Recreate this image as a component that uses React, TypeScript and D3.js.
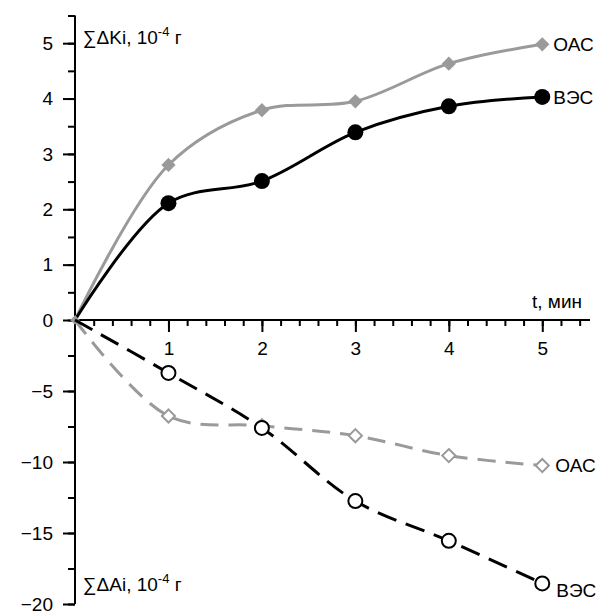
import React, { useEffect, useRef } from 'react'
import * as d3 from 'd3'

// time points, min
const times = [0, 1, 2, 3, 4, 5]
// ∑ΔKi, 10^-4 g (upper panel)
const kOAC = [0, 2.8, 3.79, 3.95, 4.63, 4.98]
const kVES = [0, 2.11, 2.51, 3.39, 3.86, 4.03]
// ∑ΔAi, 10^-4 g (lower panel)
const aOAC = [0, -6.76, -7.45, -8.15, -9.55, -10.25]
const aVES = [0, -3.73, -7.6, -12.75, -15.55, -18.55]

const topTicks = [0, 1, 2, 3, 4, 5]
const botTicks = [-5, -10, -15, -20]
const xTicks = [1, 2, 3, 4, 5]

const W = 606, H = 613
const FONT = 'Liberation Sans, Arial, sans-serif'
const GRAY = '#9a9a9a'

export default function App() {
  const ref = useRef<SVGSVGElement>(null)

  useEffect(() => {
    const svg = d3.select(ref.current)
    svg.selectAll('*').remove()

    const x = d3.scaleLinear().domain([0, 5.5]).range([75, 589])
    const yTop = d3.scaleLinear().domain([0, 5.5]).range([320, 15.5])
    const yBot = d3.scaleLinear().domain([0, -20]).range([320, 604])

    // y axis, upper part
    const gTop = svg.append('g').attr('transform', 'translate(75,0)')
    gTop.call(d3.axisLeft(yTop).tickValues(d3.range(0, 5.51, 0.5)).tickSize(7).tickFormat(() => ''))
    gTop.select('.domain').remove()
    const gTopMaj = svg.append('g').attr('transform', 'translate(75,0)')
    gTopMaj.call(d3.axisLeft(yTop).tickValues(topTicks).tickSize(12).tickPadding(10).tickFormat(d3.format('d')))
    gTopMaj.select('.domain').remove()

    // y axis, lower part
    const gBot = svg.append('g').attr('transform', 'translate(75,0)')
    gBot.call(d3.axisLeft(yBot).tickValues(d3.range(-2.5, -20.1, -2.5)).tickSize(7).tickFormat(() => ''))
    gBot.select('.domain').remove()
    const gBotMaj = svg.append('g').attr('transform', 'translate(75,0)')
    gBotMaj.call(d3.axisLeft(yBot).tickValues(botTicks).tickSize(12).tickPadding(10)
      .tickFormat(d => d3.format('d')(d as number).replace('-', '\u2212')))
    gBotMaj.select('.domain').remove()

    svg.append('line').attr('x1', 75).attr('x2', 75).attr('y1', yTop(5.5)).attr('y2', yBot(-20))
      .attr('stroke', '#000').attr('stroke-width', 2)

    // x axis
    const gx = svg.append('g').attr('transform', 'translate(0,320)')
    gx.call(d3.axisBottom(x).tickValues(d3.range(0.2, 5.41, 0.2)).tickSize(6).tickFormat(() => ''))
    gx.select('.domain').remove()
    const gxMaj = svg.append('g').attr('transform', 'translate(0,320)')
    gxMaj.call(d3.axisBottom(x).tickValues(xTicks).tickSize(12).tickPadding(10).tickFormat(d3.format('d')))
    gxMaj.select('.domain').remove()
    svg.append('line').attr('x1', 75).attr('x2', 590).attr('y1', 320).attr('y2', 320)
      .attr('stroke', '#000').attr('stroke-width', 2)

    svg.selectAll('.tick line').attr('stroke', '#000').attr('stroke-width', 2)
    svg.selectAll('.tick text').attr('font-family', FONT).attr('font-size', 19).attr('fill', '#000')

    const line = (ys: d3.ScaleLinear<number, number>) => d3.line<number>()
      .x((_, i) => x(times[i])).y(d => ys(d)).curve(d3.curveCatmullRom.alpha(0.5))

    const diamond = d3.symbol().type(d3.symbolDiamond2)

    // upper series
    svg.append('path').datum(kOAC).attr('d', line(yTop)).attr('fill', 'none').attr('stroke', GRAY).attr('stroke-width', 3)
    svg.append('path').datum(kVES).attr('d', line(yTop)).attr('fill', 'none').attr('stroke', '#000').attr('stroke-width', 3)
    svg.selectAll('.kd').data(kOAC).enter().append('path')
      .attr('transform', (d, i) => `translate(${x(times[i])},${yTop(d)})`)
      .attr('d', (_, i) => diamond.size(i === 0 ? 60 : 130)())
      .attr('fill', GRAY)
    svg.selectAll('.kc').data(kVES.slice(1)).enter().append('circle')
      .attr('cx', (_, i) => x(times[i + 1])).attr('cy', d => yTop(d)).attr('r', 8).attr('fill', '#000')

    // lower series
    svg.append('path').datum(aOAC).attr('d', line(yBot)).attr('fill', 'none').attr('stroke', GRAY)
      .attr('stroke-width', 3).attr('stroke-dasharray', '18,10')
    svg.append('path').datum(aVES).attr('d', line(yBot)).attr('fill', 'none').attr('stroke', '#000')
      .attr('stroke-width', 3).attr('stroke-dasharray', '20,10')
    svg.selectAll('.ad').data(aOAC.slice(1)).enter().append('path')
      .attr('transform', (d, i) => `translate(${x(times[i + 1])},${yBot(d)})`)
      .attr('d', diamond.size(110)())
      .attr('fill', '#fff').attr('stroke', GRAY).attr('stroke-width', 2)
    svg.selectAll('.ac').data(aVES.slice(1)).enter().append('circle')
      .attr('cx', (_, i) => x(times[i + 1])).attr('cy', d => yBot(d)).attr('r', 7)
      .attr('fill', '#fff').attr('stroke', '#000').attr('stroke-width', 2)

    // series labels
    const lab = (t: string, xx: number, yy: number) => svg.append('text').attr('x', xx).attr('y', yy)
      .attr('dy', '0.35em').attr('font-family', FONT).attr('font-size', 19).text(t)
    lab('ОАС', x(5) + 11, yTop(kOAC[5]))
    lab('ВЭС', x(5) + 11, yTop(kVES[5]))
    lab('ОАС', x(5) + 13, yBot(aOAC[5]))
    lab('ВЭС', x(5) + 14, yBot(aVES[5]) + 7)

    // axis titles
    const title = (letter: string, yy: number) => {
      const t = svg.append('text').attr('x', 83).attr('y', yy).attr('font-family', FONT).attr('font-size', 19)
      t.append('tspan').text(`∑Δ${letter}i, 10`)
      t.append('tspan').attr('font-size', 13).attr('dy', -8).text('-4')
      t.append('tspan').attr('dy', 8).text(' г')
    }
    title('K', 44)
    title('A', 591)

    svg.append('text').attr('x', 582).attr('y', 308).attr('text-anchor', 'end')
      .attr('font-family', FONT).attr('font-size', 19).text('t, мин')
  }, [])

  return (
    <svg ref={ref} width={W} height={H}
      style={{ position: 'absolute', left: 0, top: 0, background: '#fff' }} />
  )
}
